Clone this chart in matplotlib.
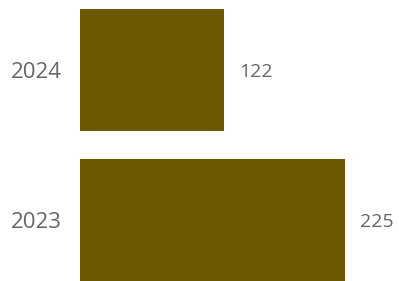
import matplotlib
matplotlib.use("Agg")
import matplotlib.pyplot as plt

# data
years = ["2023", "2024"]
values = [225, 122]

bar_color = "#6b5800"
text_color = "#666666"

plt.rcParams["font.family"] = ["Open Sans", "DejaVu Sans"]

fig = plt.figure(figsize=(3.99, 2.81), dpi=100)
ax = fig.add_axes([80 / 399, 0, 319 / 399, 1])

positions = list(range(len(years)))
ax.barh(positions, values, height=0.813, color=bar_color)

ax.set_ylim(-0.4067, 1.4667)
ax.set_xlim(0, 270.9)

ax.set_yticks(positions)
ax.set_yticklabels(years, fontsize=16, color=text_color, va="center_baseline")
ax.tick_params(axis="y", length=0, pad=13)
ax.set_xticks([])
for spine in ax.spines.values():
    spine.set_visible(False)

# value labels to the right of each bar
for pos, val in zip(positions, values):
    ax.annotate(str(val), xy=(val, pos), xytext=(11, 0), textcoords="offset points",
                ha="left", va="center_baseline", fontsize=14, color=text_color)

fig.savefig("out.png", dpi=100)
